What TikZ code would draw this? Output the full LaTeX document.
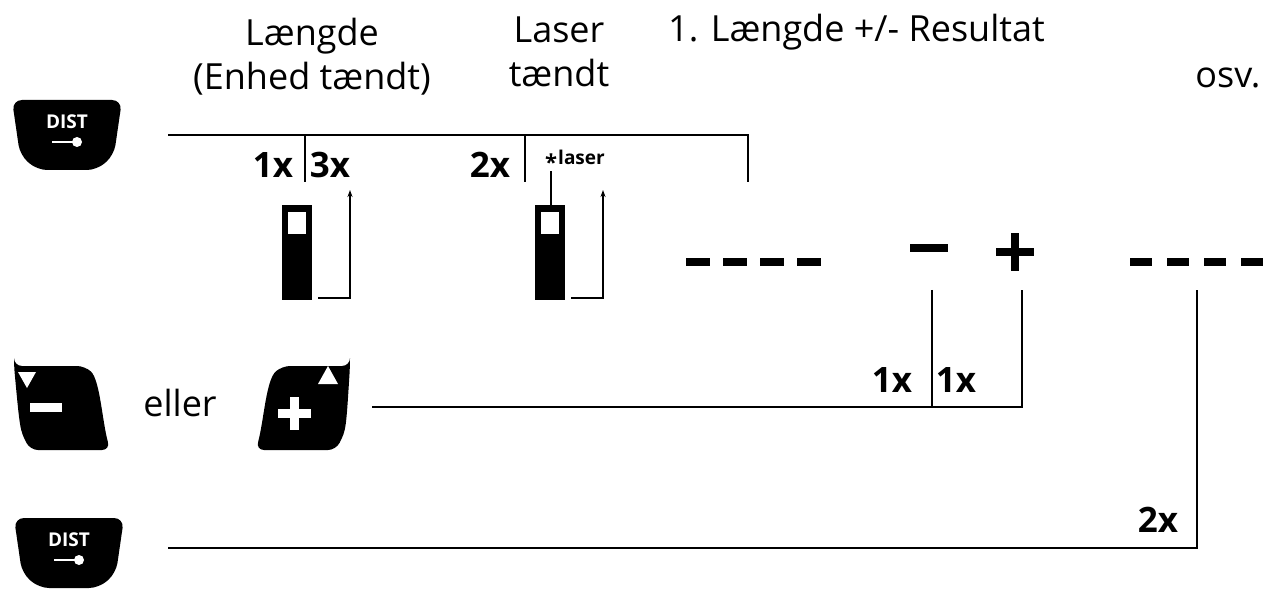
\documentclass[tikz,border=0pt]{standalone}
\usepackage{fontspec}
\setmainfont{Open Sans}
\usetikzlibrary{arrows.meta}
\begin{document}
\tikzset{
  lbl/.style={font=\fontsize{36}{44}\selectfont, align=center, inner sep=0pt},
  cnt/.style={font=\fontsize{35}{40}\selectfont\bfseries, inner sep=0pt},
  wire/.style={line width=1.6pt},
  tip/.style={wire, ->, >={Stealth[length=7pt,width=5pt]}},
}
\newcommand{\distkey}[1]{%
  \begin{scope}[shift={#1}]
    \fill[black, rounded corners=10pt] (0,0) -- (110,0) -- (102,55) -- (85,70) -- (25,70) -- (8,55) -- cycle;
    \node[text=white, font=\fontsize{19}{19}\selectfont\bfseries, inner sep=0pt] at (55,22) {DIST};
    \draw[white, line width=2pt] (40,42) -- (62,42);
    \fill[white] (65,42) circle (5);
  \end{scope}}
\begin{tikzpicture}[x=1pt, y=-1pt]
  \useasboundingbox (0,0) rectangle (1273,593);

  % headings
  \node[lbl] (hlen) at (312,57) {Længde\\(Enhed tændt)};
  \node[lbl] (hlas) at (559,52) {Laser\\tændt};
  \node[lbl, anchor=west] (hres) at (668,32) {1. Længde +/- Resultat};
  \node[lbl] (hosv) at (1228,78) {osv.};

  % keys
  \distkey{(12,100)}
  \distkey{(14,518)}
  \fill[black, rounded corners=8pt] (14,366) -- (85,366) .. controls (100,380) and (102,420) .. (110,450) -- (30,450) .. controls (20,430) .. cycle;
  \fill[white] (18,372) -- (36,372) -- (27,388) -- cycle;
  \fill[white] (30,403) rectangle (62,412);
  \node[lbl] (eller) at (180,403) {eller};
  \fill[black, rounded corners=8pt] (350,366) -- (282,366) .. controls (266,380) and (264,420) .. (256,450) -- (336,450) .. controls (346,430) .. cycle;
  \fill[white] (318,384) -- (338,384) -- (328,366) -- cycle;
  \fill[white] (290,397) rectangle (299,430);
  \fill[white] (278,409) rectangle (311,418);

  % top row
  \coordinate (t0) at (168,135);
  \coordinate (t1) at (748,135);
  \coordinate (t1e) at (748,182);
  \draw[wire] (t0) -- (t1) -- (t1e);
  \draw[wire] (305,135) -- (305,182);
  \draw[wire] (525,135) -- (525,182);
  \node[cnt] (c1) at (273,165) {1x};
  \node[cnt] (c3) at (330,165) {3x};
  \node[cnt] (c2) at (490,165) {2x};
  \node[font=\fontsize{19}{19}\selectfont\bfseries, inner sep=0pt, anchor=west] (las) at (558,157) {laser};
  \node[font=\fontsize{22}{22}\selectfont\bfseries, inner sep=0pt] (star) at (551,162) {*};

  % devices
  \foreach \dx/\nm in {282/d1, 535/d2} {
    \fill[black] (\dx,205) rectangle ++(30,95);
    \fill[white] (\dx+6,212) rectangle ++(18,22);
    \coordinate (\nm a) at (\dx+36,298);
    \coordinate (\nm b) at (\dx+68,298);
    \coordinate (\nm c) at (\dx+68,190);
    \draw[tip] (\nm a) -- (\nm b) -- (\nm c);
  }
  \draw[wire] (551,205) -- (star.south);

  % results
  \foreach \x in {686, 723, 760, 797} \fill[black] (\x,258) rectangle ++(24,8);
  \foreach \x in {1130, 1167, 1204, 1241} \fill[black] (\x,258) rectangle ++(22,8);
  \coordinate (minus) at (930,248);
  \fill[black] (910,244) rectangle (948,252);
  \coordinate (plus) at (1015,252);
  \fill[black] (996,248) rectangle (1034,256);
  \fill[black] (1011,233) rectangle (1019,271);

  % plus/minus line
  \coordinate (p0) at (372,407);
  \coordinate (p1) at (1022,407);
  \coordinate (p1e) at (1022,290);
  \draw[wire] (p0) -- (p1) -- (p1e);
  \draw[wire] (932,290) -- (932,407);
  \node[cnt] (c4) at (892,380) {1x};
  \node[cnt] (c5) at (956,380) {1x};

  % bottom line
  \coordinate (b0) at (168,548);
  \coordinate (b1) at (1197,548);
  \coordinate (b1e) at (1197,290);
  \draw[wire] (b0) -- (b1) -- (b1e);
  \node[cnt] (c6) at (1158,520) {2x};
\end{tikzpicture}
\end{document}
